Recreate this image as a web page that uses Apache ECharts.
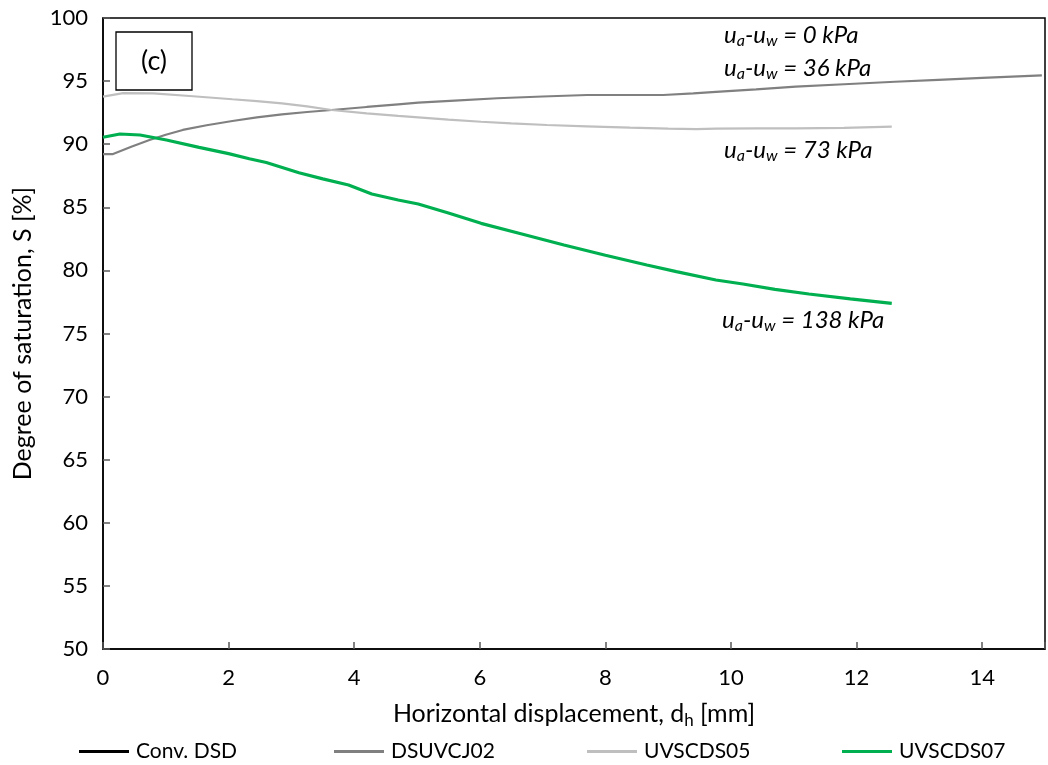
<!DOCTYPE html>
<html>
<head>
<meta charset="utf-8">
<script src="https://cdn.jsdelivr.net/npm/echarts@6/dist/echarts.min.js"></script>
<style>html,body{margin:0;padding:0;background:#fff}#c{width:1048px;height:765px}</style>
</head>
<body>
<div id="c"></div>
<script>
const seriesNames = ['Conv. DSD', 'DSUVCJ02', 'UVSCDS05', 'UVSCDS07'];
const seriesColors = ['#000000', '#808080', '#bfbfbf', '#00b050'];

const convX = [];
const convY = [];

const dsuvcj02X = [0, 0.16, 0.45, 0.74, 1.0, 1.27, 1.65, 2.06, 2.45, 2.85, 3.25, 3.64, 4.2, 4.7, 5.02, 5.6, 6.28, 7.0, 7.71, 8.3, 8.92, 9.4, 9.76, 10.4, 11.03, 11.8, 12.61, 13.3, 14.0, 14.95];
const dsuvcj02Y = [89.22, 89.22, 89.8, 90.33, 90.75, 91.13, 91.5, 91.84, 92.12, 92.37, 92.55, 92.71, 92.95, 93.16, 93.29, 93.45, 93.64, 93.78, 93.9, 93.9, 93.9, 94.02, 94.15, 94.35, 94.56, 94.75, 94.95, 95.1, 95.25, 95.45];

const uvscds05X = [0, 0.32, 0.8, 1.38, 2.06, 2.45, 2.85, 3.25, 3.64, 4.2, 4.7, 5.02, 5.5, 6.02, 6.5, 7.07, 7.7, 8.39, 9.0, 9.45, 9.76, 10.4, 11.03, 11.8, 12.56];
const uvscds05Y = [93.77, 94.05, 94.03, 93.82, 93.56, 93.42, 93.24, 93.0, 92.71, 92.45, 92.24, 92.13, 91.95, 91.78, 91.65, 91.52, 91.42, 91.31, 91.24, 91.2, 91.24, 91.26, 91.26, 91.3, 91.39];

const uvscds07X = [0, 0.27, 0.59, 1.01, 1.53, 2.0, 2.33, 2.6, 3.12, 3.5, 3.91, 4.28, 4.7, 5.02, 5.5, 6.02, 6.7, 7.34, 8.0, 8.66, 9.13, 9.76, 10.19, 10.7, 11.24, 11.9, 12.56];
const uvscds07Y = [90.55, 90.81, 90.73, 90.33, 89.75, 89.25, 88.85, 88.55, 87.74, 87.25, 86.77, 86.05, 85.58, 85.26, 84.55, 83.73, 82.85, 82.01, 81.2, 80.43, 79.9, 79.24, 78.92, 78.5, 78.13, 77.75, 77.39];

const yTicks = [50, 55, 60, 65, 70, 75, 80, 85, 90, 95, 100];
const xTicks = [0, 2, 4, 6, 8, 10, 12, 14];

const annotations = [
  {suffix: ' = 0 kPa', x: 724, y: 35},
  {suffix: ' = 36 kPa', x: 724, y: 68},
  {suffix: ' = 73 kPa', x: 724, y: 150},
  {suffix: ' = 138 kPa', x: 722, y: 320}
];
const legendLefts = [74, 329, 582, 837];

function pairs(xs, ys) { return xs.map((x, i) => [x, ys[i]]); }
const allData = [pairs(convX, convY), pairs(dsuvcj02X, dsuvcj02Y), pairs(uvscds05X, uvscds05Y), pairs(uvscds07X, uvscds07Y)];
const widths = [2, 2.2, 2.2, 3.2];

const FONT = 'Lato';
const chart = echarts.init(document.getElementById('c'), null, {renderer: 'canvas'});

const rich = {
  i: {fontFamily: FONT, fontStyle: 'italic', fontSize: 24, color: '#000'},
  s: {fontFamily: FONT, fontStyle: 'italic', fontSize: 16, color: '#000', verticalAlign: 'bottom', padding: [12, 0, 0, 0]}
};

chart.setOption({
  animation: false,
  backgroundColor: '#fff',
  grid: {left: 103, top: 18, width: 948, height: 631, show: true, borderColor: '#000', borderWidth: 1.5, backgroundColor: 'transparent'},
  xAxis: {
    type: 'value', min: 0, max: 15, interval: 2,
    name: 'Horizontal displacement, d{sub|h} [mm]',
    nameLocation: 'middle', nameGap: 49,
    nameTextStyle: {fontFamily: FONT, fontSize: 25, color: '#000', rich: {sub: {fontFamily: FONT, fontSize: 17, color: '#000', verticalAlign: 'bottom', padding: [14, 0, 0, 0]}}},
    axisLine: {lineStyle: {color: '#000', width: 1.5}},
    axisTick: {inside: true, length: 7, lineStyle: {color: '#595959', width: 1.5}},
    axisLabel: {fontFamily: FONT, fontSize: 22, color: '#000', margin: 18, formatter: v => xTicks.includes(v) ? String(v) : ''},
    splitLine: {show: false}
  },
  yAxis: {
    type: 'value', min: 50, max: 100, interval: 5,
    name: 'Degree of saturation, S [%]',
    nameLocation: 'middle', nameGap: 68,
    nameTextStyle: {fontFamily: FONT, fontSize: 25, color: '#000'},
    axisLine: {lineStyle: {color: '#000', width: 1.5}},
    axisTick: {inside: true, length: 7, lineStyle: {color: '#595959', width: 1.5}},
    axisLabel: {fontFamily: FONT, fontSize: 22, color: '#000', margin: 15, formatter: v => yTicks.includes(v) ? String(v) : ''},
    splitLine: {show: false}
  },
  legend: seriesNames.map((n, i) => ({
    left: legendLefts[i], top: 736, itemWidth: 50, itemHeight: 3, icon: 'rect',
    data: [n],
    textStyle: {fontFamily: FONT, fontSize: 21, color: '#000', padding: [0, 0, 0, 2]}
  })),
  series: seriesNames.map((n, i) => ({
    name: n, type: 'line', data: allData[i], showSymbol: false, symbol: 'none', smooth: false,
    lineStyle: {color: seriesColors[i], width: widths[i]}, itemStyle: {color: seriesColors[i]}, z: 3 + i
  })),
  graphic: [
    {type: 'rect', shape: {x: 116, y: 32, width: 76, height: 58}, style: {fill: '#fff', stroke: '#000', lineWidth: 1.3}, z: 10},
    {type: 'text', x: 154, y: 61, z: 11, style: {text: '(c)', fontFamily: FONT, fontSize: 27, fill: '#000', align: 'center', verticalAlign: 'middle'}}
  ].concat(annotations.map(a => ({
    type: 'text', x: a.x, y: a.y, z: 11,
    style: {text: '{i|u}{s|a}{i|-u}{s|w}{i|' + a.suffix + '}', rich: rich, verticalAlign: 'middle', fill: '#000'}
  })))
});
</script>
</body>
</html>
